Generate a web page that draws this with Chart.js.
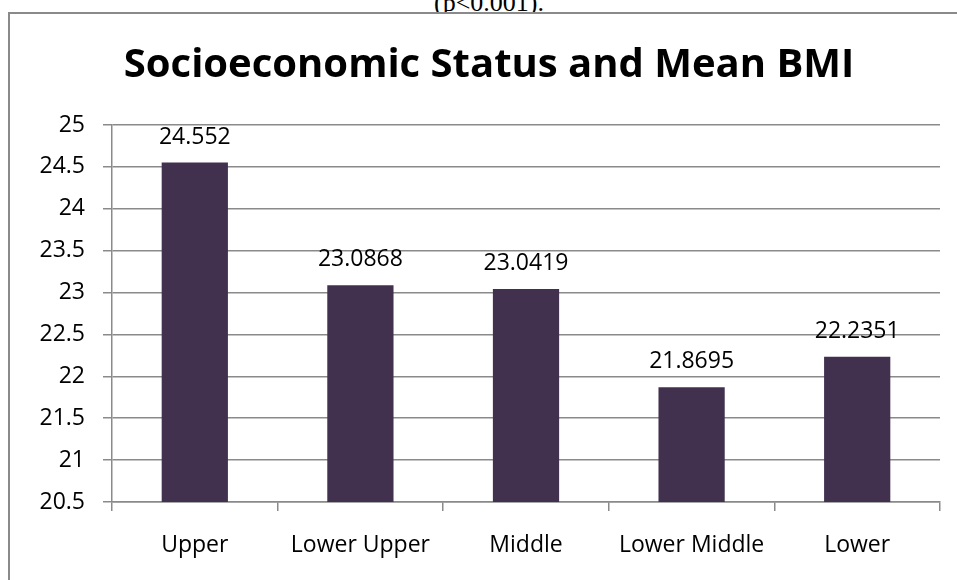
<!DOCTYPE html>
<html>
<head>
<meta charset="utf-8">
<script src="https://cdn.jsdelivr.net/npm/chart.js@4.4.1/dist/chart.umd.min.js"></script>
<style>
  html, body { margin: 0; padding: 0; background: #fff; overflow: hidden; }
  #wrap { position: relative; width: 957px; height: 580px; }
  #note {
    position: absolute; left: 0; width: 978px; top: -10px;
    text-align: center; font-family: "Liberation Serif", serif;
    font-size: 26px; line-height: 26px; color: #000;
  }
  #frame {
    position: absolute; left: 8px; top: 12px; width: 1000px; height: 1000px;
    border: 2px solid #8a8a8a; background: #fff;
  }
  #grafico { position: absolute; left: 0; top: 0; }
</style>
</head>
<body>
<div id="wrap">
  <div id="note">(p&lt;0.001).</div>
  <div id="frame"></div>
  <canvas id="grafico" width="957" height="580"></canvas>
</div>
<script>
const categorias = ["Upper", "Lower Upper", "Middle", "Lower Middle", "Lower"];
const imcMedio = [24.552, 23.0868, 23.0419, 21.8695, 22.2351];
const etiquetas = ["24.552", "23.0868", "23.0419", "21.8695", "22.2351"];
const ejeMin = 20.5;
const ejeMax = 25;
const paso = 0.5;

const fuente = '"Open Sans", "Noto Sans", sans-serif';

// etiquetas encima de cada barra
const etiquetasBarras = {
  id: 'etiquetasBarras',
  afterDatasetsDraw(chart) {
    const ctx = chart.ctx;
    const meta = chart.getDatasetMeta(0);
    ctx.save();
    ctx.font = '23px ' + fuente;
    ctx.fillStyle = '#000';
    ctx.textAlign = 'center';
    ctx.textBaseline = 'alphabetic';
    meta.data.forEach((bar, i) => {
      ctx.fillText(etiquetas[i], bar.x, bar.y - 19);
    });
    ctx.restore();
  }
};

const canvas = document.getElementById("grafico");
const chart = new Chart(canvas, {
  type: 'bar',
  data: {
    labels: categorias,
    datasets: [{
      data: imcMedio,
      backgroundColor: '#41314f',
      borderWidth: 0,
      categoryPercentage: 1,
      barPercentage: 0.4
    }]
  },
  options: {
    responsive: false,
    animation: false,
    layout: { padding: { left: 38, right: 17, top: 0, bottom: 0 } },
    plugins: {
      legend: { display: false },
      tooltip: { enabled: false },
      title: {
        display: true,
        text: 'Socioeconomic Status and Mean BMI',
        color: '#000',
        font: { family: fuente, size: 40, weight: 'bold', lineHeight: 1.2 },
        padding: { top: 42, bottom: 35 }
      }
    },
    scales: {
      y: {
        min: ejeMin,
        max: ejeMax,
        afterFit: s => { s.width = 74; },
        ticks: {
          stepSize: paso,
          color: '#000',
          padding: 18,
          font: { family: fuente, size: 23 },
          callback: v => String(+v.toFixed(2))
        },
        grid: { color: '#8a8a8a', lineWidth: 1.5, tickLength: 9 },
        border: { color: '#8a8a8a', width: 1.5 }
      },
      x: {
        afterFit: s => { s.height = 78; },
        ticks: {
          color: '#000',
          padding: 21,
          maxRotation: 0,
          font: { family: fuente, size: 23 }
        },
        grid: {
          offset: true,
          drawOnChartArea: false,
          color: '#8a8a8a',
          lineWidth: 1.5,
          tickLength: 9
        },
        border: { color: '#8a8a8a', width: 1.5 }
      }
    }
  },
  plugins: [etiquetasBarras]
});
</script>
</body>
</html>
